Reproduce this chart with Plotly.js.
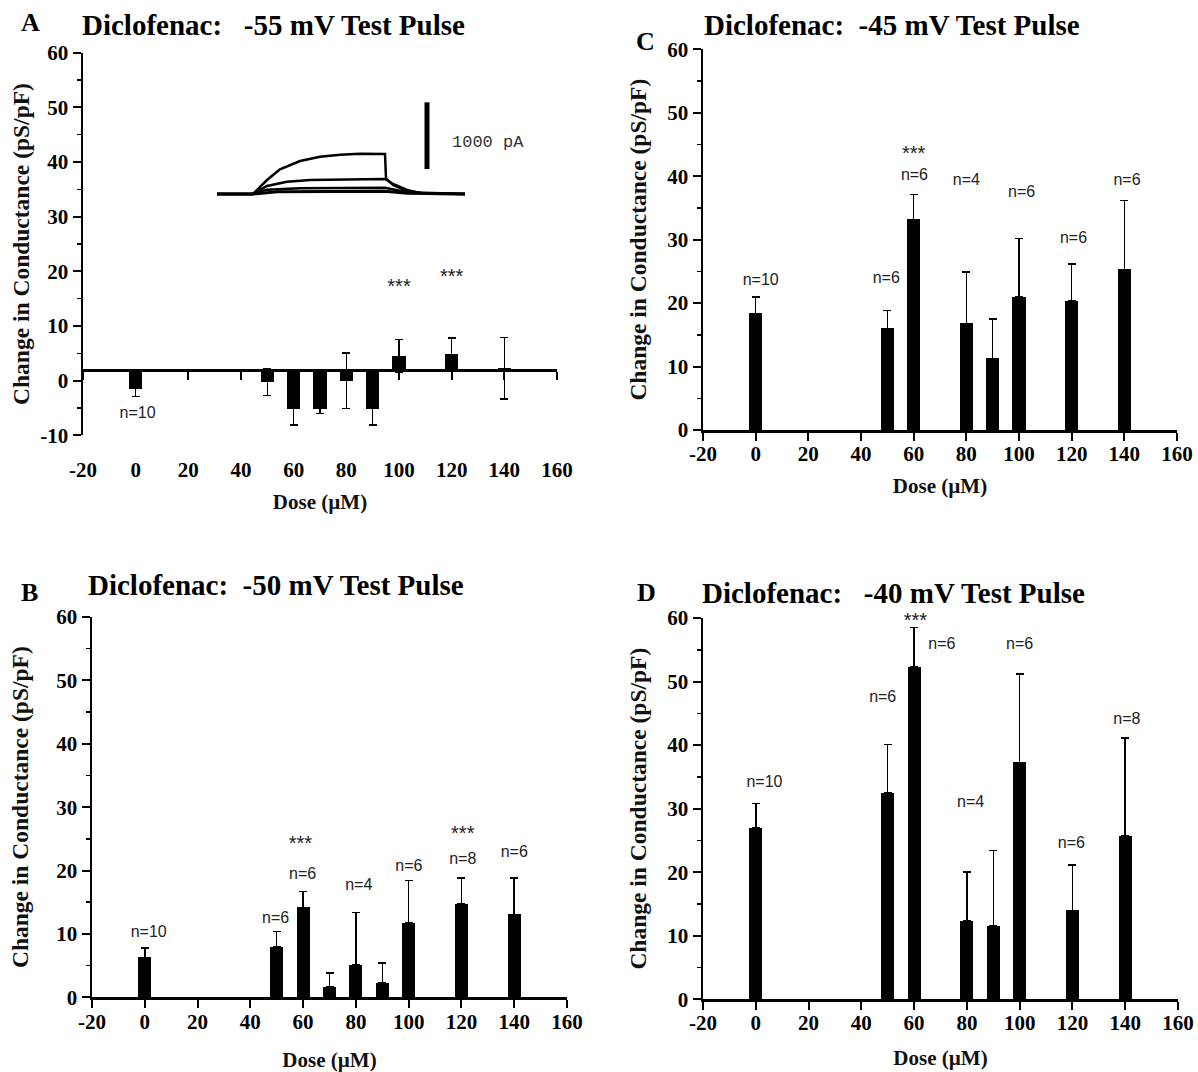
<!DOCTYPE html>
<html><head><meta charset="utf-8">
<script src="https://cdn.plot.ly/plotly-3.0.1.min.js"></script>
<style>html,body{margin:0;padding:0;background:#fff}#chart{width:1198px;height:1072px}</style>
</head><body><div id="chart"></div>
<script>
// ---------- DATA ----------
const dosesAB = [0, 50, 60, 70, 80, 90, 100, 120, 140];
const dosesCD = [0, 50, 60, 80, 90, 100, 120, 140];

const meanA = [-1.5, -0.3, -5.2, -5.2, 0.0, -5.2, 4.5, 4.9, 2.3];
const errA  = [1.4, 2.4, 2.9, 0.8, 5.1, 2.9, 3.0, 2.95, 5.6];
const meanB = [6.3, 7.9, 14.2, 1.7, 5.1, 2.3, 11.8, 14.7, 13.1];
const errB  = [1.5, 2.5, 2.5, 2.1, 8.3, 3.1, 6.6, 4.1, 5.7];
const meanC = [18.4, 16.0, 33.2, 16.8, 11.3, 21.0, 20.3, 25.3];
const errC  = [2.6, 2.8, 3.9, 8.1, 6.2, 9.2, 5.9, 10.9];
const meanD = [27.0, 32.5, 52.3, 12.4, 11.6, 37.3, 14.0, 25.7];
const errD  = [3.8, 7.6, 6.2, 7.6, 11.8, 13.9, 7.1, 15.4];

const labelAx = [0.7, 100, 120];
const labelAy = [-6.1, 17.0, 18.8];
const labelAt = ['n=10', '***', '***'];
const labelBx = [1.5, 49.6, 59, 59.8, 81.1, 100.1, 120.5, 120.5, 140];
const labelBy = [10.2, 12.3, 24.1, 19.3, 17.6, 20.6, 25.6, 21.7, 22.7];
const labelBt = ['n=10', 'n=6', '***', 'n=6', 'n=4', 'n=6', '***', 'n=8', 'n=6'];
const labelCx = [1.9, 49.6, 60, 60.3, 80, 101, 120.7, 141];
const labelCy = [23.5, 23.8, 43.4, 40.1, 39.3, 37.4, 30.1, 39.3];
const labelCt = ['n=10', 'n=6', '***', 'n=6', 'n=4', 'n=6', 'n=6', 'n=6'];
const labelDx = [3.3, 48.1, 60.5, 70.5, 81.4, 100, 119.6, 140.6];
const labelDy = [34.0, 47.4, 59.4, 55.8, 30.9, 55.7, 24.4, 43.9];
const labelDt = ['n=10', 'n=6', '***', 'n=6', 'n=4', 'n=6', 'n=6', 'n=8'];

const xTickVals = [-20, 0, 20, 40, 60, 80, 100, 120, 140, 160];
const xTickText = ['-20', '0', '20', '40', '60', '80', '100', '120', '140', '160'];
const yTickValsA = [-10, 0, 10, 20, 30, 40, 50, 60];
const yTickTextA = ['-10', '0', '10', '20', '30', '40', '50', '60'];
const yTickVals = [0, 10, 20, 30, 40, 50, 60];
const yTickText = ['0', '10', '20', '30', '40', '50', '60'];

const titles = ['Diclofenac:\u00a0\u00a0 -55 mV Test Pulse', 'Diclofenac:\u00a0 -45 mV Test Pulse',
                'Diclofenac:\u00a0 -50 mV Test Pulse', 'Diclofenac:\u00a0\u00a0 -40 mV Test Pulse'];
const panelLetters = ['A', 'C', 'B', 'D'];
const yTitle = 'Change in Conductance (pS/pF)';
const xTitle = 'Dose (µM)';

// inset current traces (time ms, current pA)
const insetT1 = [0, 36, 50, 63, 83, 103, 123, 143, 168, 169, 176, 190, 210, 248];
const insetI1 = [0, 0, 210, 370, 495, 560, 590, 605, 600, 235, 135, 45, 5, 0];
const insetT2 = [0, 36, 50, 70, 93, 133, 168, 176, 190, 203, 248];
const insetI2 = [0, 0, 120, 185, 210, 220, 225, 150, 60, 15, 0];
const insetT3 = [0, 36, 50, 83, 168, 190, 248];
const insetI3 = [0, 0, 65, 85, 95, 25, 0];
const insetT4 = [0, 36, 60, 168, 190, 248];
const insetI4 = [0, 0, 35, 40, 10, 0];
const scaleBarT = [210, 210];
const scaleBarI = [375, 1375];
const scaleBarLabel = '1000 pA';

// ---------- LAYOUT HELPERS ----------
const W = 1198, H = 1072;
const fx = p => p / W;
const fy = p => 1 - p / H;
const crossA = 1.9; // where panel A's x axis crosses the y axis

const serif = 'Liberation Serif, Times New Roman, serif';
const sans = 'Liberation Sans, Arial, sans-serif';
const tickFont = {family: serif, size: 21, color: '#000', weight: 'bold'};
const titleFont = {family: serif, size: 23.5, color: '#111', weight: 'bold'};
const xTitleFont = {family: serif, size: 21, color: '#111', weight: 'bold'};

function barTrace(x, mean, err, xa, ya, base) {
  const t = {
    type: 'bar', x: x, xaxis: xa, yaxis: ya, width: 5,
    marker: {color: '#000', line: {width: 0}},
    showlegend: false, hoverinfo: 'skip',
  };
  if (base !== undefined) {
    t.base = base;
    t.y = mean.map(v => v - base);
    t.error_y = {type: 'data', array: err, visible: true, color: '#000', thickness: 1.5, width: 4};
  } else {
    t.y = mean;
    t.error_y = {type: 'data', symmetric: false, array: err, arrayminus: err.map(() => 0),
                 visible: true, color: '#000', thickness: 1.5, width: 4};
  }
  return t;
}
function textTrace(x, y, t, xa, ya) {
  return {type: 'scatter', mode: 'text', x: x, y: y, text: t, xaxis: xa, yaxis: ya,
    textfont: {family: sans, size: t.map(s => s === '***' ? 20 : 16), color: '#222'}, cliponaxis: false,
    showlegend: false, hoverinfo: 'skip'};
}
function lineTrace(x, y, w) {
  return {type: 'scatter', mode: 'lines', x: x, y: y, xaxis: 'x6', yaxis: 'y6',
    line: {color: '#000', width: w}, showlegend: false, hoverinfo: 'skip'};
}

const traces = [
  barTrace(dosesAB, meanA, errA, 'x', 'y', crossA),
  textTrace(labelAx, labelAy, labelAt, 'x5', 'y'),
  barTrace(dosesCD, meanC, errC, 'x2', 'y2'),
  textTrace(labelCx, labelCy, labelCt, 'x2', 'y2'),
  barTrace(dosesAB, meanB, errB, 'x3', 'y3'),
  textTrace(labelBx, labelBy, labelBt, 'x3', 'y3'),
  barTrace(dosesCD, meanD, errD, 'x4', 'y4'),
  textTrace(labelDx, labelDy, labelDt, 'x4', 'y4'),
  lineTrace(insetT4, insetI4, 3),
  lineTrace(insetT3, insetI3, 2.5),
  lineTrace(insetT2, insetI2, 2.5),
  lineTrace(insetT1, insetI1, 2.5),
  lineTrace(scaleBarT, scaleBarI, 5),
];

function xAxis(px0, px1, anchor, showLine, tickLen, labelShift, standoff) {
  return {
    domain: [fx(px0), fx(px1)], range: [-20, 160], anchor: anchor,
    tickmode: 'array', tickvals: xTickVals, ticktext: xTickText,
    ticks: 'outside', ticklen: tickLen, tickwidth: 2,
    tickcolor: showLine ? '#000' : 'rgba(0,0,0,0)', ticklabelstandoff: labelShift,
    showline: showLine, linecolor: '#000', linewidth: 2.5,
    showgrid: false, zeroline: false, tickfont: tickFont, fixedrange: true,
    title: {text: '\u00a0'.repeat(8) + xTitle, font: xTitleFont, standoff: standoff},
  };
}
function yAxis(py0, py1, anchor, range, vals, text, standoff) {
  return {
    domain: [fy(py0), fy(py1)], range: range, anchor: anchor,
    tickmode: 'array', tickvals: vals, ticktext: text,
    ticks: 'outside', ticklen: 8, tickwidth: 2, tickcolor: '#000',
    minor: {tickmode: 'linear', tick0: 5, dtick: 10, ticks: 'outside', ticklen: 4, tickwidth: 1.5, tickcolor: '#000', showgrid: false},
    showline: true, linecolor: '#000', linewidth: 2.5,
    showgrid: false, zeroline: false, tickfont: tickFont, fixedrange: true,
    title: {text: yTitle, font: titleFont, standoff: standoff},
  };
}

const yDomA = [fy(435.4), fy(52.7)];
const crossPos = yDomA[0] + (crossA - (-10)) / 70 * (yDomA[1] - yDomA[0]);

const layout = {
  width: W, height: H, margin: {l: 0, r: 0, t: 0, b: 0},
  paper_bgcolor: '#fff', plot_bgcolor: 'rgba(0,0,0,0)',
  showlegend: false, bargap: 0,
  xaxis: xAxis(83, 557, 'y', false, 15, 0, 13),
  yaxis: yAxis(435.4, 52.7, 'x', [-10, 60], yTickValsA, yTickTextA, 4),
  xaxis5: {
    overlaying: 'x', anchor: 'free', position: crossPos, range: [-20, 160], side: 'bottom',
    tickmode: 'array', tickvals: xTickVals, showticklabels: false,
    ticks: 'outside', ticklen: 8, tickwidth: 2, tickcolor: '#000',
    showline: true, linecolor: '#000', linewidth: 2.5, showgrid: false, zeroline: false, fixedrange: true,
  },
  xaxis2: xAxis(703, 1177, 'y2', true, 8, -5, 14),
  yaxis2: yAxis(430, 49.3, 'x2', [0, 60], yTickVals, yTickText, 14),
  xaxis3: xAxis(92, 567, 'y3', true, 8, -4, 20),
  yaxis3: yAxis(997.3, 617, 'x3', [0, 60], yTickVals, yTickText, 21),
  xaxis4: xAxis(703, 1178, 'y4', true, 8, -5, 17),
  yaxis4: yAxis(999.3, 618, 'x4', [0, 60], yTickVals, yTickText, 14),
  xaxis6: {domain: [fx(217), fx(467)], range: [0, 250], anchor: 'y6', visible: false, fixedrange: true},
  yaxis6: {domain: [fy(205), fy(90)], range: [-165, 1560], anchor: 'x6', visible: false, fixedrange: true},
  annotations: [
    {text: scaleBarLabel, xref: 'x6', yref: 'y6', x: 233, y: 780, xanchor: 'left', yanchor: 'middle',
     showarrow: false, font: {family: 'Liberation Mono, Courier New, monospace', size: 17, color: '#333'}},
  ],
};

const titlePos = [
  {lx: 30, ly: 22, tx: 80, ty: 25},
  {lx: 645, ly: 41, tx: 702, ty: 25},
  {lx: 29, ly: 592, tx: 86, ty: 585},
  {lx: 646, ly: 593, tx: 700, ty: 593},
];
titlePos.forEach((p, i) => {
  layout.annotations.push({text: panelLetters[i], xref: 'paper', yref: 'paper', x: fx(p.lx), y: fy(p.ly),
    xanchor: 'center', yanchor: 'middle', showarrow: false,
    font: {family: serif, size: 26, color: '#000', weight: 'bold'}});
  layout.annotations.push({text: titles[i], xref: 'paper', yref: 'paper', x: fx(p.tx), y: fy(p.ty),
    xanchor: 'left', yanchor: 'middle', showarrow: false,
    font: {family: serif, size: 29, color: '#000', weight: 'bold'}});
});

Plotly.newPlot('chart', traces, layout, {staticPlot: true, displayModeBar: false});
</script></body></html>
